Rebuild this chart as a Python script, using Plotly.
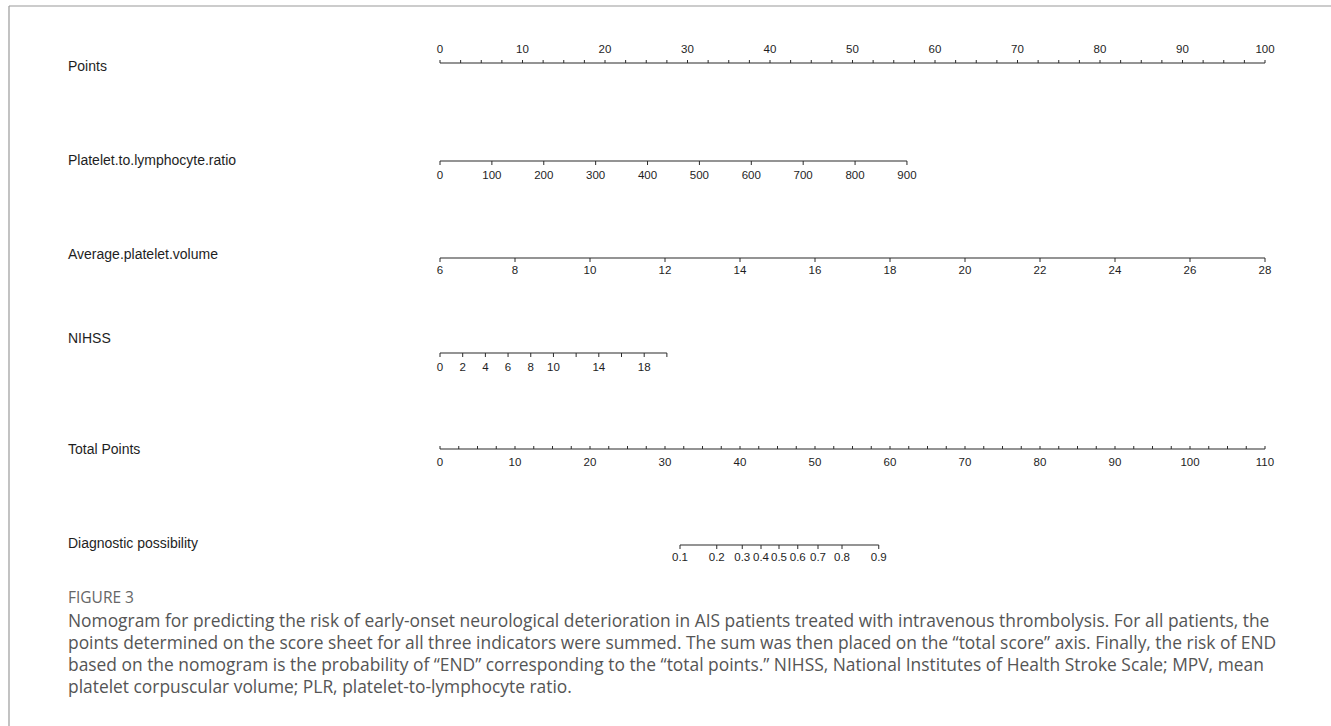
import numpy as np
import plotly.graph_objects as go

# ---- nomogram scales ----
points_labels = [0, 10, 20, 30, 40, 50, 60, 70, 80, 90, 100]
points_minor_step = 2.5

plr_labels = [0, 100, 200, 300, 400, 500, 600, 700, 800, 900]
plr_max_value = 900
plr_max_points = 56.6

apv_labels = [6, 8, 10, 12, 14, 16, 18, 20, 22, 24, 26, 28]
apv_min, apv_max = 6, 28

nihss_ticks = [0, 2, 4, 6, 8, 10, 12, 14, 16, 18, 20]
nihss_labels = [0, 2, 4, 6, 8, 10, 14, 18]
nihss_max_points = 27.5

total_labels = [0, 10, 20, 30, 40, 50, 60, 70, 80, 90, 100, 110]
total_minor_step = 2.5
total_max = 110

prob_labels = ["0.1", "0.2", "0.3", "0.4", "0.5", "0.6", "0.7", "0.8", "0.9"]
prob_total_points = [32.0, 36.9, 40.3, 42.8, 45.2, 47.7, 50.4, 53.6, 58.5]

row_names = ["Points", "Platelet.to.lymphocyte.ratio", "Average.platelet.volume",
             "NIHSS", "Total Points", "Diagnostic possibility"]

caption_title = "FIGURE 3"
caption_lines = [
    "Nomogram for predicting the risk of early-onset neurological deterioration in AIS patients treated with intravenous thrombolysis. For all patients, the",
    "points determined on the score sheet for all three indicators were summed. The sum was then placed on the \u201ctotal score\u201d axis. Finally, the risk of END",
    "based on the nomogram is the probability of \u201cEND\u201d corresponding to the \u201ctotal points.\u201d NIHSS, National Institutes of Health Stroke Scale; MPV, mean",
    "platelet corpuscular volume; PLR, platelet-to-lymphocyte ratio.",
]

# ---- layout geometry (pixels) ----
W, H = 1331, 726
X0_PX, PX_PER_PT = 440, 8.25
row_y = [63, 161, 258, 353, 449, 545]
name_y = [66, 160, 254, 338, 449, 543]
LINE = "#2b2b2b"
TXT = "#1e1e1e"
TICK_FONT = dict(family="Liberation Sans, Arial", size=11.5, color=TXT)


def plr_pts(v):
    return np.asarray(v, float) * plr_max_points / plr_max_value


def apv_pts(v):
    return (np.asarray(v, float) - apv_min) / (apv_max - apv_min) * 100


def nihss_pts(v):
    return np.asarray(v, float) * nihss_max_points / nihss_ticks[-1]


def total_pts(v):
    return np.asarray(v, float) * 100 / total_max


fig = go.Figure()


def axis_row(y, tick_x, label_x, labels, tick_dir, label_side, tick_len=4, label_off=14):
    tick_x = list(np.atleast_1d(tick_x))
    xs = [min(tick_x), max(tick_x)]
    fig.add_trace(go.Scatter(x=xs, y=[y, y], mode="lines",
                             line=dict(color=LINE, width=1.2), hoverinfo="skip"))
    tx, ty = [], []
    for t in tick_x:
        tx += [t, t, None]
        ty += [y, y + tick_dir * tick_len, None]
    fig.add_trace(go.Scatter(x=tx, y=ty, mode="lines",
                             line=dict(color=LINE, width=1), hoverinfo="skip"))
    ly = y - label_off if label_side == "above" else y + label_off
    fig.add_trace(go.Scatter(x=list(label_x), y=[ly] * len(label_x), mode="text",
                             text=[str(l) for l in labels], textfont=TICK_FONT,
                             textposition="middle center", hoverinfo="skip"))


# Points
pts_minor = np.arange(0, 100 + 1e-9, points_minor_step)
axis_row(row_y[0], pts_minor, points_labels, points_labels, -1, "above", 3, 13)
# Platelet-to-lymphocyte ratio
axis_row(row_y[1], plr_pts(plr_labels), plr_pts(plr_labels), plr_labels, 1, "below", 4, 15)
# Average platelet volume
axis_row(row_y[2], apv_pts(apv_labels), apv_pts(apv_labels), apv_labels, 1, "below", 4, 13)
# NIHSS
axis_row(row_y[3], nihss_pts(nihss_ticks), nihss_pts(nihss_labels), nihss_labels, 1, "below", 4, 15)
# Total points
tot_minor = np.arange(0, total_max + 1e-9, total_minor_step)
axis_row(row_y[4], total_pts(tot_minor), total_pts(total_labels), total_labels, -1, "below", 3, 14)
# Diagnostic possibility
axis_row(row_y[5], total_pts(prob_total_points), total_pts(prob_total_points), prob_labels, 1, "below", 4, 13)

annotations = []
for name, y in zip(row_names, name_y):
    annotations.append(dict(x=66, y=y, xref="x2", yref="y", text=name, showarrow=False,
                            xanchor="left", yanchor="middle",
                            font=dict(family="Liberation Sans, Arial", size=14, color=TXT)))

annotations.append(dict(x=66, y=597, xref="x2", yref="y", text=caption_title, showarrow=False,
                        xanchor="left", yanchor="middle",
                        font=dict(family="Open Sans", size=15.5, color="#666666")))
for i, line in enumerate(caption_lines):
    annotations.append(dict(x=66, y=620 + 22 * i, xref="x2", yref="y", text=line,
                            showarrow=False, xanchor="left", yanchor="middle",
                            font=dict(family="Open Sans", size=17.4, color="#555555")))

shapes = [
    dict(type="line", xref="paper", yref="paper", x0=9 / W, x1=1, y0=1 - 6 / H, y1=1 - 6 / H,
         line=dict(color="#9a9a9a", width=1.2)),
    dict(type="line", xref="paper", yref="paper", x0=9 / W, x1=9 / W, y0=0, y1=1 - 6 / H,
         line=dict(color="#9a9a9a", width=1.2)),
]

fig.update_layout(
    width=W, height=H, margin=dict(l=0, r=0, t=0, b=0),
    paper_bgcolor="white", plot_bgcolor="white", showlegend=False,
    xaxis=dict(range=[-X0_PX / PX_PER_PT, (W - X0_PX) / PX_PER_PT], visible=False, fixedrange=True),
    xaxis2=dict(range=[0, W], visible=False, overlaying="x", fixedrange=True),
    yaxis=dict(range=[H, 0], visible=False, fixedrange=True),
    annotations=annotations, shapes=shapes,
)

fig.write_html("out.html")
